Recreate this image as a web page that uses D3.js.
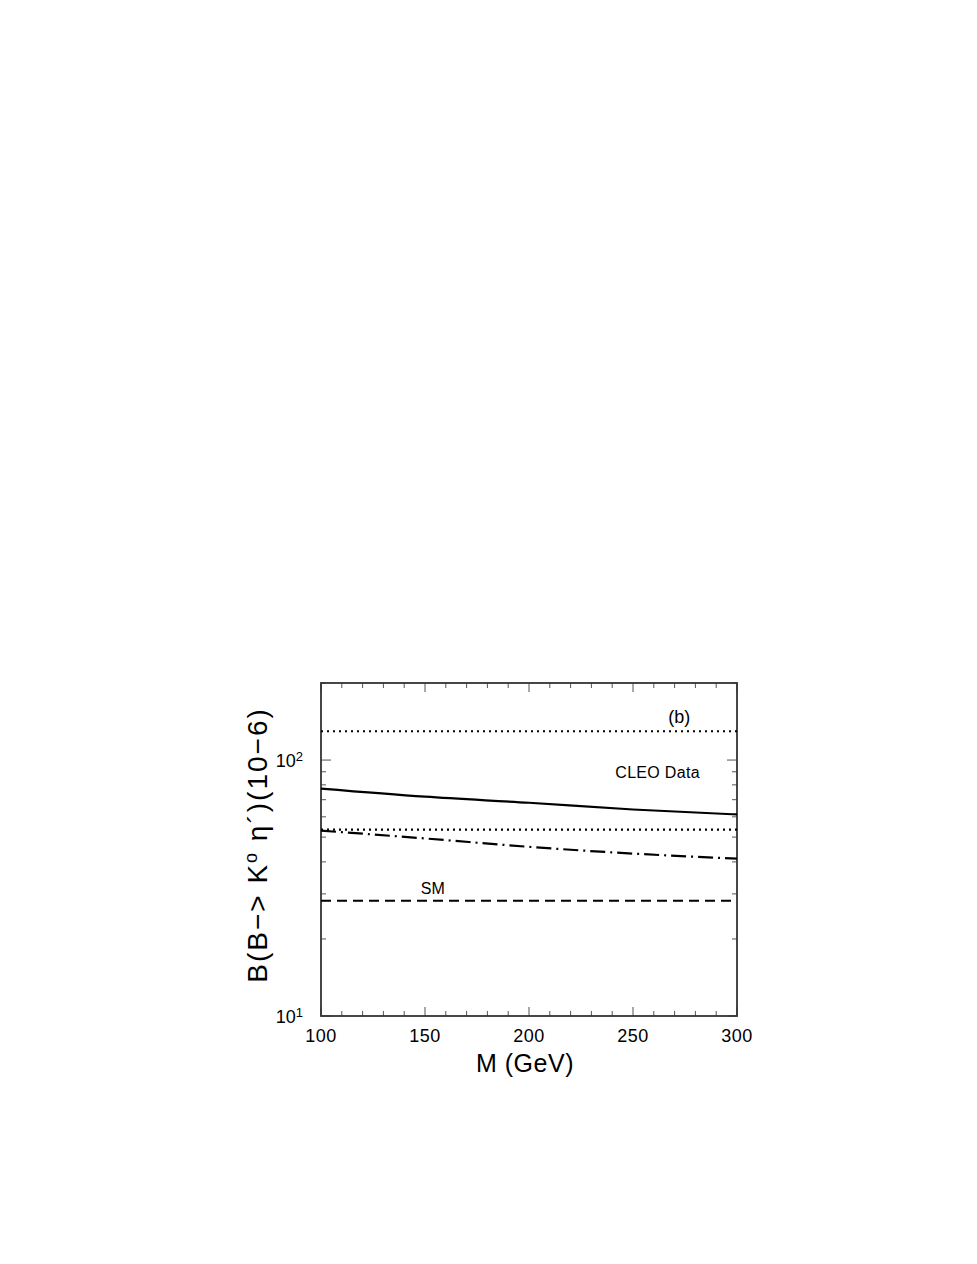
<!DOCTYPE html>
<html>
<head>
<meta charset="utf-8">
<script src="https://cdn.jsdelivr.net/npm/d3@7"></script>
<style>
  html, body { margin: 0; padding: 0; background: #fff; }
  svg text { font-family: 'Liberation Sans', Arial, sans-serif; fill: #000; }
</style>
</head>
<body>
<svg id="chart" width="977" height="1264"></svg>
<script>
// values
const massGeV = [100, 150, 200, 250, 300]
const solidBr = [77.3, 71.9, 68.1, 64.1, 61.3]
const dashDotBr = [53.0, 49.4, 45.8, 43.1, 41.2]
const smBr = [28.2, 28.2]
const cleoUpper = [129.6, 129.6]
const cleoLower = [53.5, 53.5]
const xTicks = [100, 150, 200, 250, 300]
const yDecades = [10, 100]

const margin = { top: 683, right: 240, bottom: 248, left: 321 }
const width = 977
const height = 1264

const svg = d3.select('#chart')

const x = d3.scaleLinear()
    .domain([100, 300])
    .range([margin.left, width - margin.right])

const y = d3.scaleLog()
    .domain([10, 200])
    .range([height - margin.bottom, margin.top])

const x0 = x.range()[0], x1 = x.range()[1]
const y0 = y.range()[0], y1 = y.range()[1]

// ticks (inside, on all four sides)
const ticks = svg.append('g').attr('stroke', '#555').attr('stroke-width', 1)
d3.range(100, 301, 10).forEach((v) => {
    const len = v % 50 === 0 ? 9 : 5
    ticks.append('line').attr('x1', x(v)).attr('x2', x(v)).attr('y1', y0).attr('y2', y0 - len)
    ticks.append('line').attr('x1', x(v)).attr('x2', x(v)).attr('y1', y1).attr('y2', y1 + len)
})
const yMinor = d3.range(10, 101, 10).concat([200])
yMinor.forEach((v) => {
    const len = yDecades.includes(v) ? 10 : 5
    ticks.append('line').attr('x1', x0).attr('x2', x0 + len).attr('y1', y(v)).attr('y2', y(v))
    ticks.append('line').attr('x1', x1).attr('x2', x1 - len).attr('y1', y(v)).attr('y2', y(v))
})

// frame
svg.append('rect')
    .attr('x', x0).attr('y', y1)
    .attr('width', x1 - x0).attr('height', y0 - y1)
    .attr('fill', 'none').attr('stroke', '#333').attr('stroke-width', 1.8)

// tick labels
svg.append('g').selectAll('text')
    .data(xTicks)
    .join('text')
    .attr('x', (d) => x(d))
    .attr('y', y0 + 26)
    .attr('text-anchor', 'middle')
    .attr('font-size', 18)
    .attr('letter-spacing', 0.5)
    .text((d) => d)

yDecades.forEach((v) => {
    const t = svg.append('text')
        .attr('x', x0 - 18)
        .attr('y', y(v) + 7)
        .attr('text-anchor', 'end')
        .attr('font-size', 18)
    t.append('tspan').text('10')
    t.append('tspan').attr('dy', -6).attr('font-size', 13).text(Math.log10(v))
})

// axis titles
svg.append('text')
    .attr('x', (x0 + x1) / 2 - 4)
    .attr('y', y0 + 56)
    .attr('text-anchor', 'middle')
    .attr('font-size', 25)
    .attr('letter-spacing', 0.5)
    .text('M (GeV)')

const yt = svg.append('text')
    .attr('transform', `translate(267,845) rotate(-90)`)
    .attr('text-anchor', 'middle')
    .attr('font-size', 28)
    .attr('letter-spacing', 2)
yt.append('tspan').text('B(B\u2212> K')
yt.append('tspan').attr('dy', -10).attr('font-size', 18).text('o')
yt.append('tspan').attr('dy', 10).text(' \u03b7\u00b4)(10\u22126)')

// curves
const line = d3.line()
    .x((d) => x(d[0]))
    .y((d) => y(d[1]))
    .curve(d3.curveMonotoneX)

const flat = (vals) => [[100, vals[0]], [300, vals[1]]]

const curves = [
    { pts: flat(cleoUpper), dash: '2,4', w: 2.2 },
    { pts: flat(cleoLower), dash: '2,4', w: 2.2 },
    { pts: massGeV.map((m, i) => [m, solidBr[i]]), dash: null, w: 2.2 },
    { pts: massGeV.map((m, i) => [m, dashDotBr[i]]), dash: '15,5,2,5', w: 2.2 },
    { pts: flat(smBr), dash: '10,6', w: 2.2 },
]

svg.append('g').selectAll('path')
    .data(curves)
    .join('path')
    .attr('d', (d) => line(d.pts))
    .attr('fill', 'none')
    .attr('stroke', '#000')
    .attr('stroke-width', (d) => d.w)
    .attr('stroke-dasharray', (d) => d.dash)

// annotations
svg.append('text').attr('x', x(267)).attr('y', y(150) + 8).attr('font-size', 18).text('(b)')
svg.append('text').attr('x', x(241.5)).attr('y', y(90) + 6).attr('font-size', 16).attr('letter-spacing', 0.3).text('CLEO Data')
svg.append('text').attr('x', x(148)).attr('y', y(31.5) + 6).attr('font-size', 16).text('SM')
</script>
</body>
</html>
